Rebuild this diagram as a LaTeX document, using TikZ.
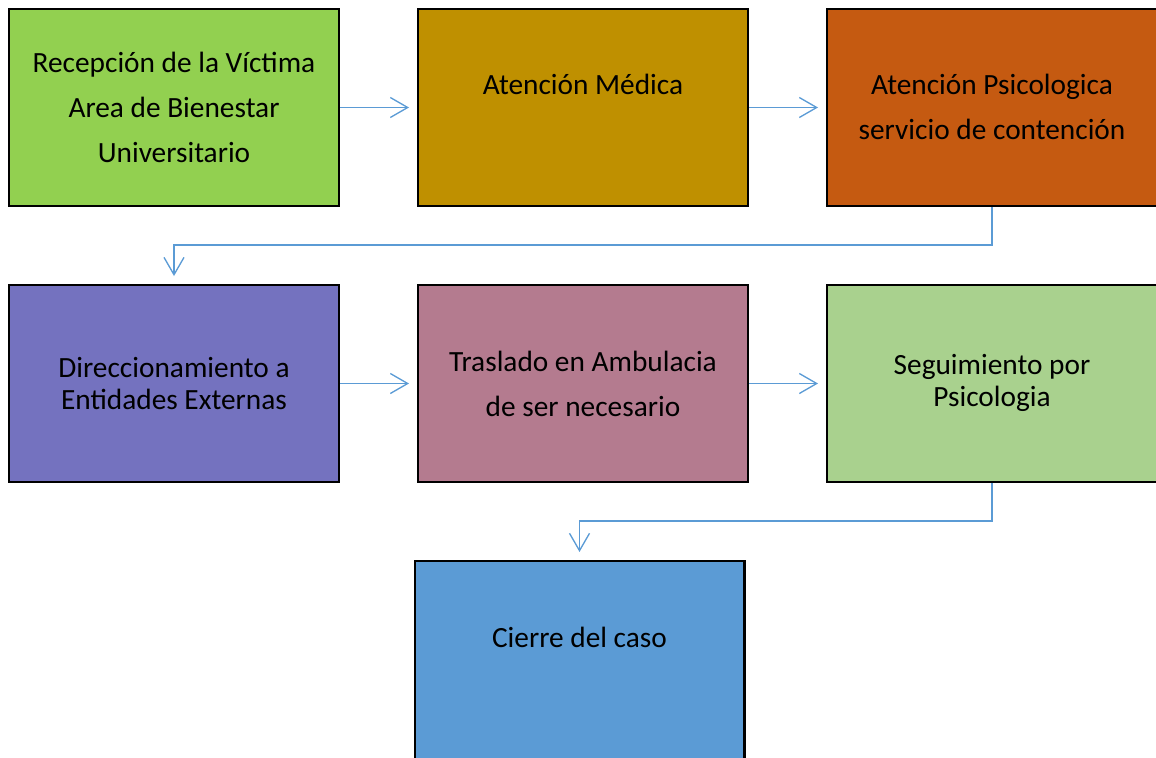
\documentclass[tikz,border=0pt]{standalone}
\usepackage{fontspec}
\setmainfont{Carlito}
\usetikzlibrary{arrows.meta}

\definecolor{verdeRec}{HTML}{92D050}
\definecolor{oroMed}{HTML}{BF9000}
\definecolor{naranjaPsi}{HTML}{C55A11}
\definecolor{moradoDir}{HTML}{7472BF}
\definecolor{rosaTras}{HTML}{B47B8F}
\definecolor{verdeSeg}{HTML}{A9D18E}
\definecolor{azulCie}{HTML}{5B9BD5}
\definecolor{azulFlecha}{HTML}{5B9BD5}

\begin{document}
\begin{tikzpicture}[x=0.75pt, y=-0.75pt,
	caja/.style={draw=black, line width=1.8pt, minimum width=247.2pt, minimum height=147.4pt, inner sep=0pt},
	texto/.style={font=\fontsize{22}{33.75}\selectfont, align=center},
	flecha/.style={draw=azulFlecha, line width=1pt, -{Straight Barb[length=13pt, width=15pt]}, shorten >=6pt}]

	\useasboundingbox (0,0) rectangle (1156,757);
	\clip (0,0) rectangle (1156,757);

	% primera fila
	\node[caja, fill=verdeRec] (rec) at (174,107.5) {};
	\node[caja, fill=oroMed] (med) at (583,107.5) {};
	\node[caja, fill=naranjaPsi, minimum width=300pt] (psi) at (1027.2,107.5) {};

	% segunda fila
	\node[caja, fill=moradoDir] (dir) at (174,383.5) {};
	\node[caja, fill=rosaTras] (tras) at (583,383.5) {};
	\node[caja, fill=verdeSeg, minimum width=300pt] (seg) at (1027.2,383.5) {};

	% cierre
	\node[caja, fill=azulCie, minimum height=170pt] (cie) at (579.5,674.5) {};

	% textos
	\node[texto] (recTxt) at (rec) {Recepción de la Víctima\\Area de Bienestar\\Universitario};
	\node[texto] (medTxt) at (583,84) {Atención Médica};
	\node[texto] (psiTxt) at (992,106.5) {Atención Psicologica\\servicio de contención};
	\node[texto, font=\fontsize{22}{24}\selectfont] (dirTxt) at (dir) {Direccionamiento a\\Entidades Externas};
	\node[texto] (trasTxt) at (tras) {Traslado en Ambulacia\\de ser necesario};
	\node[texto, font=\fontsize{22}{24}\selectfont] (segTxt) at (992,383) {Seguimiento por\\Psicologia};
	\node[texto] (cieTxt) at (579.5,637) {Cierre del caso};

	% flechas
	\draw[flecha] (rec.east) -- (med.west);
	\draw[flecha] (med.east) -- (psi.west);
	\draw[flecha] (psiTxt |- psi.south) -- ++(0,38) -| (dir.north);
	\draw[flecha] (dir.east) -- (tras.west);
	\draw[flecha] (tras.east) -- (seg.west);
	\draw[flecha] (segTxt |- seg.south) -- ++(0,38) -| (cie.north);
\end{tikzpicture}
\end{document}
